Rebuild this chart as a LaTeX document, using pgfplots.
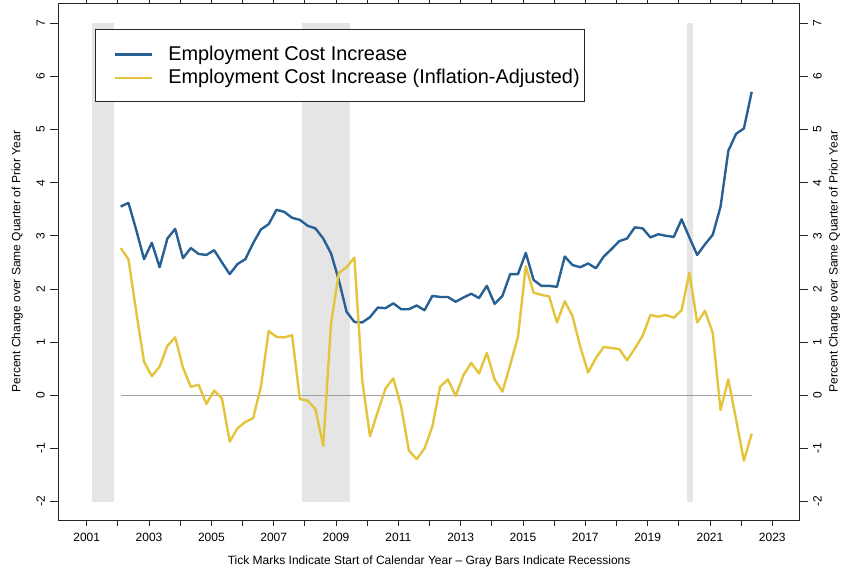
\documentclass[border=0pt]{standalone}
\usepackage{pgfplots}
\pgfplotsset{compat=1.18}
\usepackage{pgfplotstable}
\usepackage{fontspec}
\setmainfont{Liberation Sans}
\definecolor{ecblue}{RGB}{40,96,148}
\definecolor{ecyellow}{RGB}{228,196,60}
\definecolor{recgray}{RGB}{229,229,229}
\definecolor{zerogray}{RGB}{160,160,160}

\pgfplotstableread{
x blue yellow
2002.09 3.55 2.77
2002.34 3.62 2.56
2002.59 3.11 1.57
2002.84 2.56 0.63
2003.09 2.87 0.36
2003.34 2.41 0.54
2003.59 2.95 0.93
2003.84 3.13 1.09
2004.09 2.58 0.52
2004.34 2.77 0.16
2004.59 2.66 0.20
2004.84 2.64 -0.16
2005.09 2.73 0.09
2005.34 2.50 -0.06
2005.59 2.28 -0.87
2005.84 2.47 -0.62
2006.09 2.56 -0.50
2006.34 2.86 -0.43
2006.59 3.12 0.16
2006.84 3.22 1.21
2007.09 3.49 1.10
2007.34 3.45 1.09
2007.59 3.34 1.13
2007.84 3.30 -0.07
2008.09 3.19 -0.10
2008.34 3.14 -0.26
2008.59 2.95 -0.95
2008.84 2.67 1.35
2009.09 2.17 2.30
2009.34 1.57 2.41
2009.59 1.38 2.59
2009.84 1.37 0.29
2010.09 1.47 -0.77
2010.34 1.65 -0.31
2010.59 1.64 0.13
2010.84 1.73 0.32
2011.09 1.62 -0.21
2011.34 1.62 -1.04
2011.59 1.69 -1.20
2011.84 1.60 -1.00
2012.09 1.87 -0.59
2012.34 1.85 0.16
2012.59 1.85 0.30
2012.84 1.76 -0.01
2013.09 1.84 0.38
2013.34 1.91 0.61
2013.59 1.83 0.41
2013.84 2.06 0.80
2014.09 1.72 0.30
2014.34 1.87 0.07
2014.59 2.28 0.57
2014.84 2.28 1.10
2015.09 2.68 2.43
2015.34 2.17 1.93
2015.59 2.06 1.89
2015.84 2.06 1.86
2016.09 2.04 1.37
2016.34 2.61 1.77
2016.59 2.45 1.49
2016.84 2.41 0.91
2017.09 2.48 0.43
2017.34 2.39 0.70
2017.59 2.61 0.91
2017.84 2.75 0.89
2018.09 2.90 0.87
2018.34 2.95 0.66
2018.59 3.16 0.88
2018.84 3.14 1.12
2019.09 2.97 1.51
2019.34 3.03 1.48
2019.59 3.00 1.51
2019.84 2.98 1.46
2020.09 3.31 1.60
2020.34 2.97 2.31
2020.59 2.64 1.37
2020.84 2.84 1.59
2021.09 3.02 1.17
2021.34 3.55 -0.28
2021.59 4.60 0.30
2021.84 4.92 -0.46
2022.09 5.02 -1.23
2022.34 5.71 -0.72
}\ecidata

\pgfplotsset{
  common/.style={
    at={(58.5pt,48pt)}, anchor=south west,
    scale only axis, width=741.2pt, height=516.5pt,
    xmin=2000.095, xmax=2023.88, ymin=-2.345, ymax=7.37,
    tick align=outside,
    axis line style={black!85, line width=0.8pt},
    every tick/.style={black!85, line width=0.8pt},
    /pgf/number format/assume math mode=true,
    ticklabel style={font=\fontsize{12}{14}\selectfont, inner sep=0pt},
    label style={font=\fontsize{12}{14}\selectfont},
  }
}

\begin{document}
\begin{tikzpicture}
\useasboundingbox (0pt,0pt) rectangle (843pt,568pt);

\begin{axis}[common,
  xtick={2001,2003,...,2023},
  minor xtick={2002,2004,...,2022},
  major tick length=6pt, minor tick length=6pt,
  ytick=\empty,
  xticklabel style={/pgf/number format/1000 sep={}, anchor=north, yshift=-7pt},
  xlabel={Tick Marks Indicate Start of Calendar Year -- Gray Bars Indicate Recessions},
  xlabel style={at={(axis description cs:0.5,-0.0871)}, anchor=base},
  legend cell align=left,
  legend image code/.code={\path (0pt,0pt); \draw[#1] (13pt,-1pt) -- (50pt,-1pt);},
  legend style={at={(0.0492,0.9506)}, anchor=north west,
    draw=black!85, line width=0.8pt, fill=white,
    font=\fontsize{19.9}{22}\selectfont,
    inner xsep=5pt, inner ysep=15.25pt, row sep=5.5pt,
    nodes={inner sep=0pt, text height=15.75pt, text depth=2.25pt},
    /tikz/every odd column/.append style={column sep=15.5pt}},
]
\addplot[fill=recgray, draw=none, forget plot] coordinates {(2001.17,-2) (2001.17,7) (2001.88,7) (2001.88,-2)};
\addplot[fill=recgray, draw=none, forget plot] coordinates {(2007.92,-2) (2007.92,7) (2009.44,7) (2009.44,-2)};
\addplot[fill=recgray, draw=none, forget plot] coordinates {(2020.25,-2) (2020.25,7) (2020.47,7) (2020.47,-2)};
\addplot[zerogray, line width=0.8pt, forget plot] coordinates {(2002.09,0) (2022.34,0)};
\addplot[ecblue, line width=2.4pt, line join=round] table[x=x, y=blue] {\ecidata};
\addlegendentry{Employment Cost Increase}
\addplot[ecyellow, line width=2.4pt, line join=round] table[x=x, y=yellow] {\ecidata};
\addlegendentry{Employment Cost Increase (Inflation-Adjusted)}
\end{axis}

\begin{axis}[common, hide x axis,
  ytick={-2,-1,...,7}, ytick pos=left, yticklabel pos=left,
  major tick length=8.5pt,
  yticklabel style={rotate=90, anchor=south, yshift=5pt},
  ylabel={Percent Change over Same Quarter of Prior Year},
  ylabel style={at={(axis description cs:-0.0515,0.5)}, anchor=base, rotate=0},
]
\end{axis}

\begin{axis}[common, hide x axis,
  ytick={-2,-1,...,7}, ytick pos=right, yticklabel pos=right,
  major tick length=8.5pt,
  yticklabel style={rotate=90, anchor=north, yshift=-4.8pt},
  ylabel={Percent Change over Same Quarter of Prior Year},
  ylabel style={at={(axis description cs:1.051,0.5)}, anchor=base, rotate=0},
]
\end{axis}
\end{tikzpicture}
\end{document}
